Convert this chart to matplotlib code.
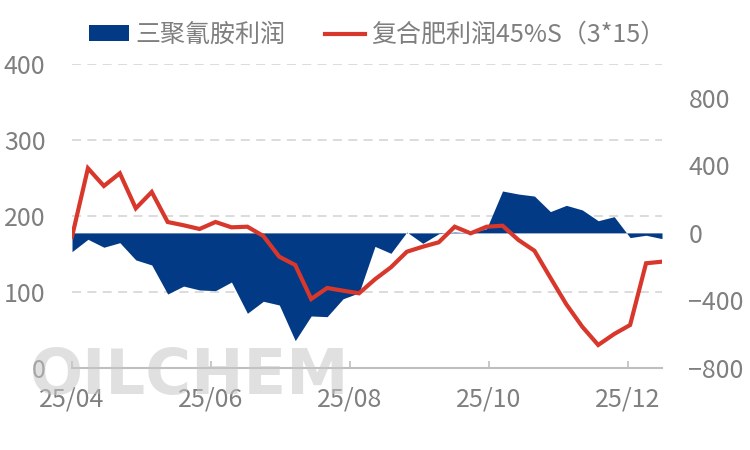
import matplotlib
matplotlib.use("Agg")
import matplotlib.pyplot as plt
import matplotlib.dates as mdates
import pandas as pd
import numpy as np

plt.rcParams['font.family'] = ['Noto Sans CJK SC', 'DejaVu Sans']

# ---- data ----
start_date = "2025-04-01"
n_weeks = 38
dates = pd.date_range(start_date, periods=n_weeks, freq="7D")

melamine_profit = [-111, -38, -85, -58, -160, -190, -362, -315, -338, -342,
                   -291, -476, -405, -427, -638, -492, -496, -390, -355, -80,
                   -121, 5, -62, -5, 5, 0, 25, 248, 230, 218,
                   126, 163, 136, 72, 96, -28, -14, -34]
fert_profit = [172.8, 262.8, 239.5, 256.2, 210.1, 231.6, 192.1, 187.8, 182.9, 192.1,
               185.1, 185.9, 173.7, 146.4, 135.5, 90.8, 105.3, 101.7, 98.3, 116.7,
               132.5, 153.0, 159.6, 165.4, 185.9, 177.2, 185.9, 187.2, 168.4, 154.3,
               118.8, 83.8, 54.3, 30.3, 44.7, 56.6, 137.8, 139.9]

left_ticks = [0, 100, 200, 300, 400]
right_ticks = [-800, -400, 0, 400, 800]
label_blue = "三聚氰胺利润"
label_red = "复合肥利润45%S（3*15）"

BLUE = "#033A86"
RED = "#D8372B"
GRAY_TXT = "#7F7F7F"
GRID = "#D9D9D9"
AXIS = "#BFBFBF"
FS = 18

fig = plt.figure(figsize=(7.5, 4.5), dpi=100)
pos = [72/750, 1-368/450, (662-72)/750, (368-64)/450]
ax1 = fig.add_axes(pos)
ax1.set_ylim(0, 400)
ax1.set_yticks(left_ticks)
ax1.set_xlim(dates[0], dates[-1])
ax1.yaxis.grid(True, color=GRID, linestyle=(0, (5, 3.5)), linewidth=1.3)
ax1.set_axisbelow(True)
for s in ["top", "right", "left"]:
    ax1.spines[s].set_visible(False)
ax1.spines["bottom"].set_color(AXIS)
ax1.spines["bottom"].set_linewidth(1.5)
ax1.tick_params(axis="y", length=0, pad=19, labelsize=FS, labelcolor=GRAY_TXT)
ax1.xaxis.set_major_locator(mdates.MonthLocator(bymonth=[4, 6, 8, 10, 12]))
ax1.xaxis.set_major_formatter(mdates.DateFormatter("%y/%m"))
ax1.tick_params(axis="x", direction="in", length=5, width=1.2, color=AXIS,
                pad=13, labelsize=FS, labelcolor=GRAY_TXT)

ax2 = ax1.twinx()
ax2.set_ylim(-800, 1000)
ax2.set_yticks(right_ticks)
ax2.patch.set_visible(False)
for s in ax2.spines.values():
    s.set_visible(False)
ax2.tick_params(axis="y", length=0, pad=19, labelsize=FS, labelcolor=GRAY_TXT)
fill = ax2.fill_between(dates, melamine_profit, 0, color=BLUE, linewidth=0,
                        label=label_blue)

ax3 = fig.add_axes(pos, sharex=ax1, sharey=ax1)
ax3.patch.set_visible(False)
line, = ax3.plot(dates, fert_profit, color=RED, linewidth=3, label=label_red,
                 solid_joinstyle="miter")
ax3.axis("off")

leg = fig.legend(handles=[fill, line], labels=[label_blue, label_red],
                 loc="center", bbox_to_anchor=(0.503, 1-35/450), ncol=2,
                 frameon=False, fontsize=FS, handlelength=1.6, handleheight=0.6,
                 handletextpad=0.25, columnspacing=1.6, labelcolor=GRAY_TXT)

fig.text(30/750, 1-394/450, "OILCHEM", fontsize=45, fontweight="bold",
         color="#C8C8C8", alpha=0.55, family="DejaVu Sans", zorder=10)

fig.savefig("out.png", dpi=100)
